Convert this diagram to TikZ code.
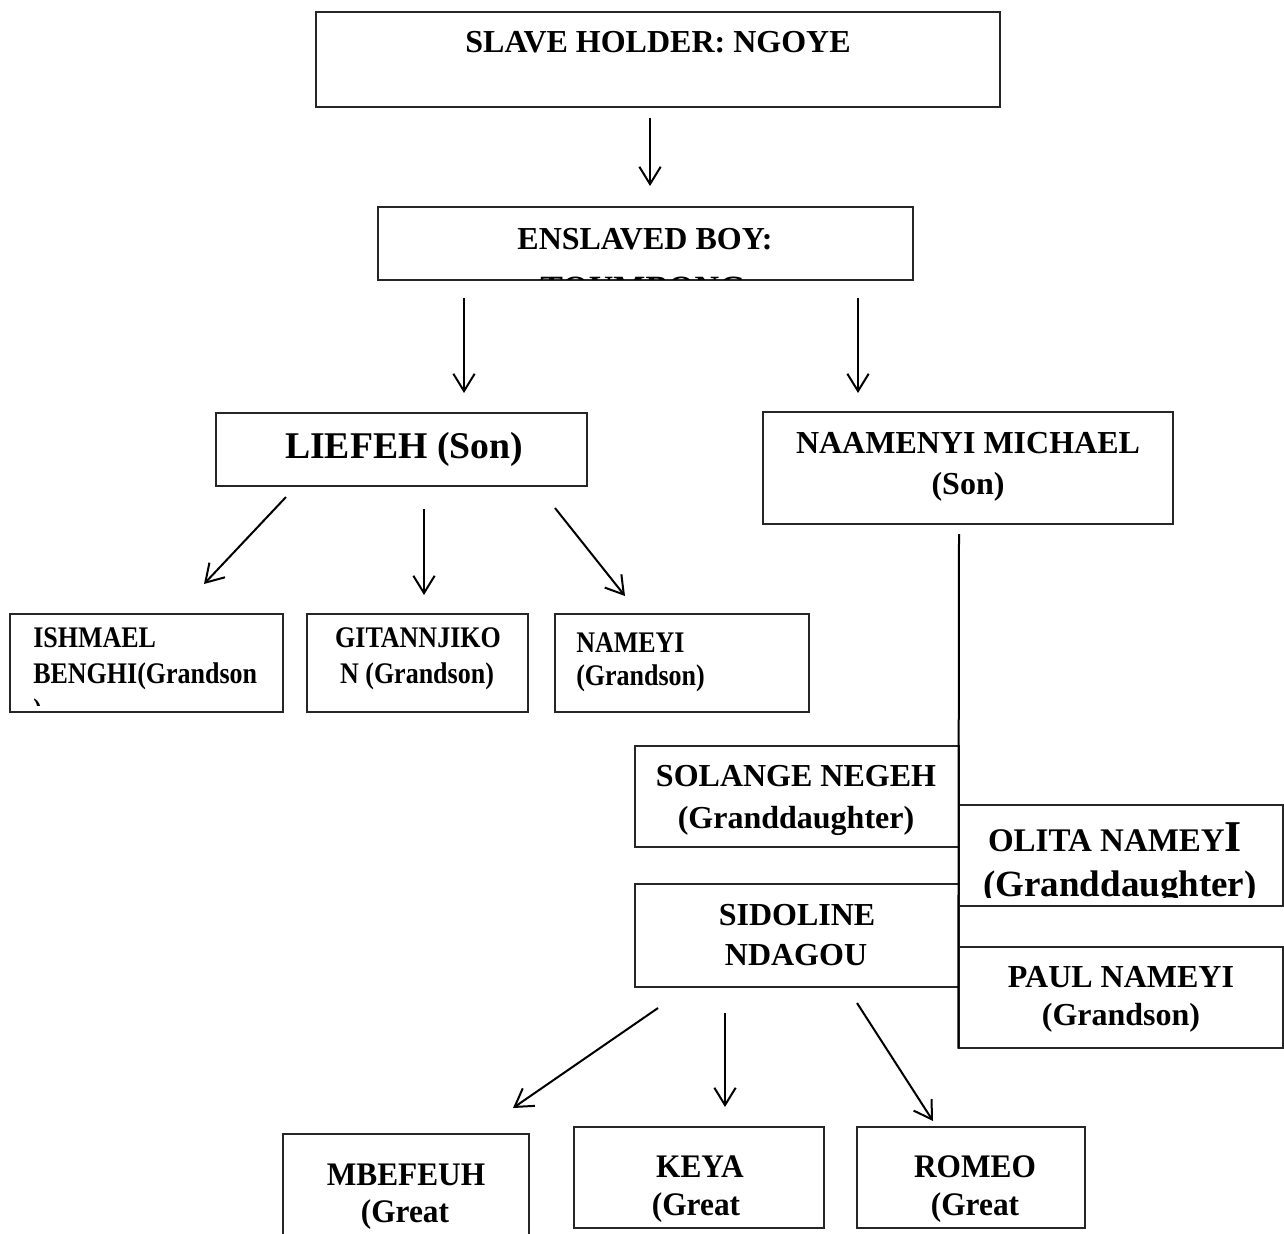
\documentclass[tikz,border=0pt]{standalone}
\usepackage{fontspec}
\setmainfont{Liberation Serif}
\usetikzlibrary{arrows.meta,fit}
\begin{document}
\begin{tikzpicture}[x=0.75pt,y=-0.75pt,
  box/.style={draw=black!85, line width=1.1pt, inner sep=0pt, fill=white},
  conn/.style={line width=1.5pt, -{Straight Barb[length=13pt,width=16pt]}},
  lnk/.style={line width=1.5pt},
  t/.style={inner sep=0pt, anchor=base, font=\bfseries\fontsize{24}{28}\selectfont},
  tl/.style={t, anchor=base west},
  tbig/.style={t, font=\bfseries\fontsize{28.3}{32}\selectfont},
  ts/.style={t, font=\bfseries\fontsize{19.5}{23}\selectfont, yscale=1.15},
  tsl/.style={ts, anchor=base west},
  tb/.style={t, font=\bfseries\fontsize{23.5}{27}\selectfont, yscale=1.05},
]
\useasboundingbox (0,0) rectangle (1284,1234);
\clip (0,0) rectangle (1284,1234);

% boxes
\node[box, fit={(316,12) (1000,107)}] (holder) {};
\node[box, fit={(378,207) (913,280)}] (boy) {};
\node[box, fit={(216,413) (587,486)}] (liefeh) {};
\node[box, fit={(763,412) (1173,524)}] (naam) {};
\node[box, fit={(10,614) (283,712)}] (ish) {};
\node[box, fit={(307,614) (528,712)}] (git) {};
\node[box, fit={(555,614) (809,712)}] (nam) {};
\node[box, fit={(635,746) (959,847)}] (sol) {};
\node[box, fit={(959,805) (1283,906)}] (oli) {};
\node[box, fit={(635,884) (959,987)}] (sid) {};
\node[box, fit={(959,947) (1283,1048)}] (paul) {};
\node[box, fit={(283,1134) (529,1260)}] (mbef) {};
\node[box, fit={(574,1127) (824,1228)}] (keya) {};
\node[box, fit={(857,1127) (1085,1228)}] (romeo) {};

% texts
\node[t] (tHolder) at (658,53) {SLAVE HOLDER: NGOYE};
\node[t] (tBoy) at (645,249) {ENSLAVED BOY:};
\begin{scope}
  \clip (378,207) rectangle (913,279);
  \node[t, font=\bfseries\fontsize{25.5}{29}\selectfont] (tBoy2) at (643,299) {TOUMBONG};
\end{scope}
\node[tbig] (tLiefeh) at (404,458) {LIEFEH (Son)};
\node[t] (tNaam1) at (968,453) {NAAMENYI MICHAEL};
\node[t] (tNaam2) at (968,494) {(Son)};

\node[tsl] (tIsh1) at (33,647) {ISHMAEL};
\node[tsl] (tIsh2) at (33,683) {BENGHI(Grandson};
\begin{scope}
  \clip (10,614) rectangle (283,705);
  \node[tsl] (tIsh3) at (33,719) {)};
\end{scope}
\node[ts] (tGit1) at (418,647) {GITANNJIKO};
\node[ts] (tGit2) at (417,683) {N (Grandson)};
\node[tsl] (tNam1) at (576,652) {NAMEYI};
\node[tsl] (tNam2) at (576,685) {(Grandson)};

\node[t] (tSol1) at (796,786) {SOLANGE NEGEH};
\node[t] (tSol2) at (796,828) {(Granddaughter)};
\node[t, font=\bfseries\fontsize{24.75}{28}\selectfont] (tOli1) at (1115,851) {OLITA NAMEY{\fontsize{33}{36}\selectfont I}};
\begin{scope}
  \clip (959,805) rectangle (1283,897);
  \node[t, font=\bfseries\fontsize{27.75}{32}\selectfont] (tOli2) at (1120,896) {(Granddaughter)};
\end{scope}
\node[t] (tSid1) at (797,925) {SIDOLINE};
\node[t] (tSid2) at (796,965) {NDAGOU};
\node[t] (tPaul1) at (1121,987) {PAUL NAMEYI};
\node[t] (tPaul2) at (1121,1025) {(Grandson)};

\node[tb] (tMb1) at (406,1185) {MBEFEUH};
\node[tb] (tMb2) at (405,1222) {(Great};
\node[tb] (tKe1) at (700,1177) {KEYA};
\node[tb] (tKe2) at (696,1215) {(Great};
\node[tb] (tRo1) at (975,1177) {ROMEO};
\node[tb] (tRo2) at (975,1215) {(Great};

% connector end points
\coordinate (a0s) at (650,118);  \coordinate (a0e) at (650,186);
\coordinate (a1s) at (464,298);  \coordinate (a1e) at (464,393);
\coordinate (a2s) at (858,298);  \coordinate (a2e) at (858,393);
\coordinate (a3s) at (286,497);  \coordinate (a3e) at (204,584);
\coordinate (a4s) at (424,509);  \coordinate (a4e) at (424,595);
\coordinate (a5s) at (555,508);  \coordinate (a5e) at (625,596);
\coordinate (nv)  at (959,534);
\coordinate (a6s) at (658,1008); \coordinate (a6e) at (513,1108);
\coordinate (a7s) at (725,1013); \coordinate (a7e) at (725,1107);
\coordinate (a8s) at (857,1003); \coordinate (a8e) at (933,1121);

% connectors
\draw[conn] (a0s) -- (a0e);
\draw[conn] (a1s) -- (a1e);
\draw[conn] (a2s) -- (a2e);
\draw[conn] (a3s) -- (a3e);
\draw[conn] (a4s) -- (a4e);
\draw[conn] (a5s) -- (a5e);
\draw[lnk] (nv) -- (paul.south west);
\draw[conn] (a6s) -- (a6e);
\draw[conn] (a7s) -- (a7e);
\draw[conn] (a8s) -- (a8e);
\end{tikzpicture}
\end{document}
